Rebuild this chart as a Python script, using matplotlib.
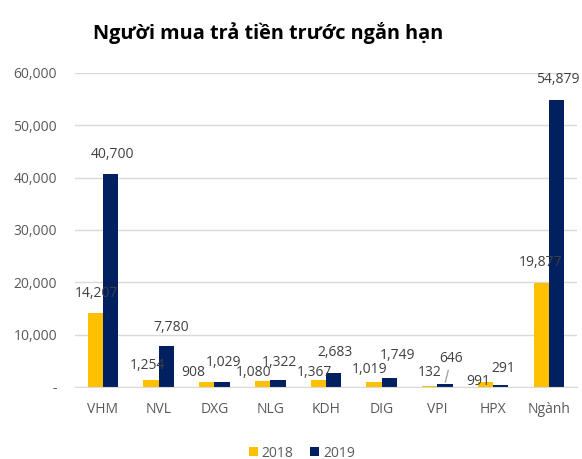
import matplotlib
matplotlib.use('Agg')
import matplotlib.pyplot as plt
import numpy as np
from matplotlib.ticker import FuncFormatter

categories = ['VHM', 'NVL', 'DXG', 'NLG', 'KDH', 'DIG', 'VPI', 'HPX', 'Ngành']
vals_2018 = [14207, 1254, 908, 1080, 1367, 1019, 132, 991, 19877]
vals_2019 = [40700, 7780, 1029, 1322, 2683, 1749, 646, 291, 54879]
series_names = ['2018', '2019']

plt.rcParams['font.family'] = ['Open Sans', 'DejaVu Sans']

c18 = '#FFC000'
c19 = '#002060'
grey = '#595959'

fig = plt.figure(figsize=(5.82, 4.59), dpi=100)
ax = fig.add_axes([0.129, 0.157, 0.862, 0.684])

x = np.arange(len(categories))
w = 0.275
b1 = ax.bar(x - w / 2, vals_2018, w, color=c18, label=series_names[0])
b2 = ax.bar(x + w / 2, vals_2019, w, color=c19, label=series_names[1])

ax.set_xlim(-0.5, len(categories) - 0.5)
ax.set_ylim(0, 60000)
ax.set_yticks(np.arange(0, 60001, 10000))
ax.yaxis.set_major_formatter(FuncFormatter(lambda v, p: '-' if v == 0 else f'{int(v):,}'))
ax.set_xticks(x)
ax.set_xticklabels(categories)
ax.tick_params(axis='both', length=0, labelsize=10, colors=grey)
ax.tick_params(axis='x', pad=11)
ax.tick_params(axis='y', pad=13)
ax.grid(axis='y', color='#D9D9D9', linewidth=1)
ax.set_axisbelow(True)
for s in ['top', 'right', 'left']:
    ax.spines[s].set_visible(False)
ax.spines['bottom'].set_color('#D9D9D9')

# label offsets in pixels (dx, dy of label centre from bar top)
off18 = [(1.5, -19.5), (-4, -15), (-13.5, -10), (-9, -9), (-4, -7), (-4.5, -12), (0, -14), (-7, 0), (-1, -20)]
off19 = [(1.5, -19), (5, -19), (1.5, -19), (1.5, -18), (1, -20), (8.5, -22), (6, -25), (2, -17), (1, -20)]
px = 0.72  # points per pixel at 100 dpi

for i in range(len(categories)):
    dx, dy = off18[i]
    ax.annotate(f'{vals_2018[i]:,}', (x[i] - w / 2, vals_2018[i]), xytext=(dx * px, -dy * px),
                textcoords='offset points', ha='center', va='center', fontsize=10, color='#404040')
    dx, dy = off19[i]
    arrow = None
    if categories[i] == 'VPI':
        arrow = dict(arrowstyle='-', color='#A6A6A6', lw=1, shrinkA=1, shrinkB=1)
    ax.annotate(f'{vals_2019[i]:,}', (x[i] + w / 2, vals_2019[i]), xytext=(dx * px, -dy * px),
                textcoords='offset points', ha='center', va='center', fontsize=10, color='#404040',
                arrowprops=arrow)

fig.text(0.46, 0.928, 'Người mua trả tiền trước ngắn hạn', ha='center', va='center',
         fontsize=14.3, fontweight='bold', color='black')

leg = fig.legend(handles=[b1, b2], loc='center', bbox_to_anchor=(0.519, 0.013), ncol=2,
                 frameon=False, fontsize=10, handlelength=0.6, handleheight=0.6,
                 columnspacing=1.2, handletextpad=0.3, borderpad=0)
for t in leg.get_texts():
    t.set_color(grey)

fig.savefig('out.png', dpi=100)
